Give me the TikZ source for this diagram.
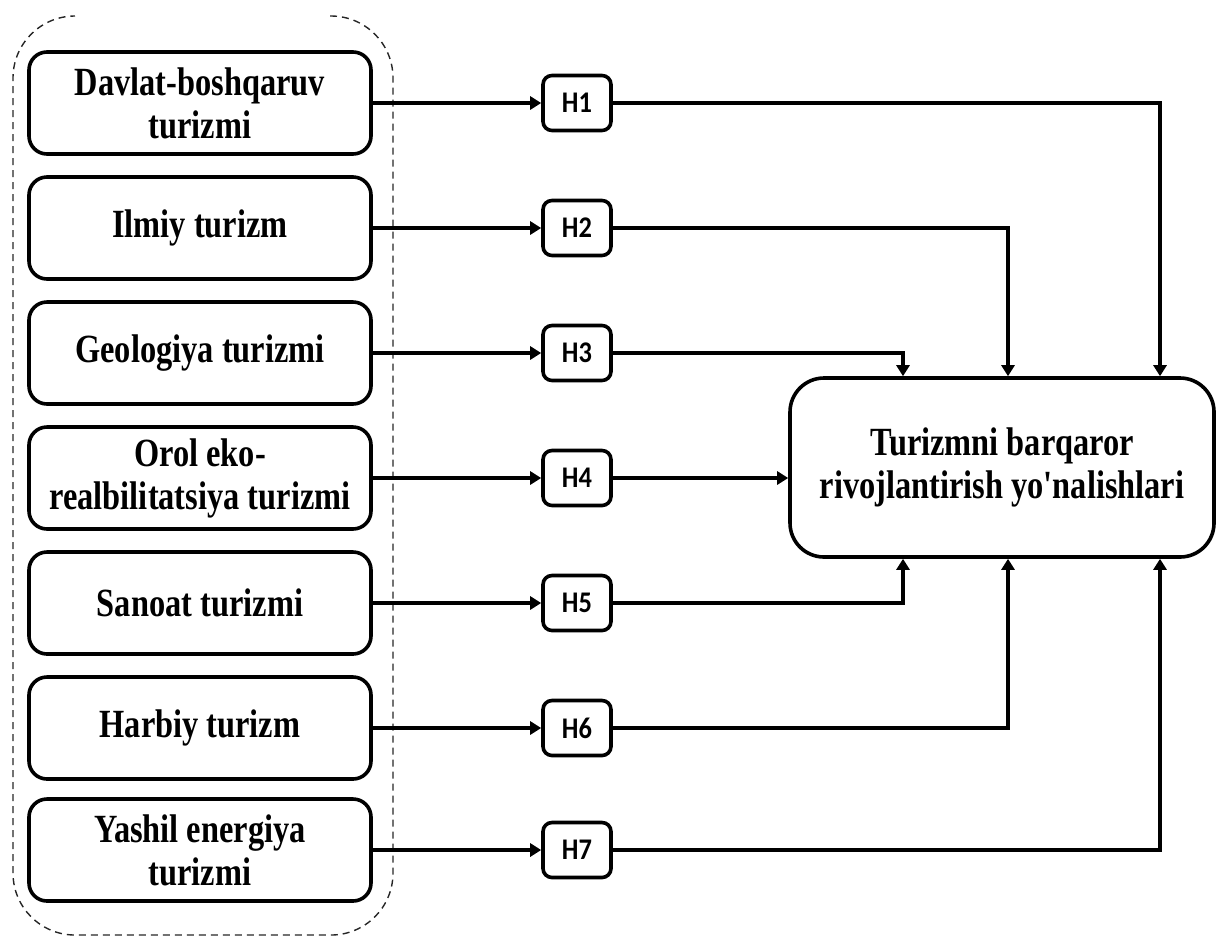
\documentclass[tikz,border=0pt]{standalone}
\usepackage{fontspec}
\newfontfamily\kindfont{Liberation Serif}[FakeStretch=0.81]
\newfontfamily\hypfont{Carlito}[FakeStretch=0.88]
\usetikzlibrary{arrows.meta}

\begin{document}
\begin{tikzpicture}[x=0.5pt,y=-0.5pt,
    kind/.style={draw,line width=1.8pt,rounded corners=9pt,minimum width=171pt,minimum height=51pt,
        inner sep=0pt,align=center,font=\kindfont\bfseries\fontsize{20}{21.5}\selectfont},
    hyp/.style={draw,line width=1.8pt,rounded corners=4.5pt,minimum width=34pt,minimum height=27.5pt,
        inner sep=0pt,font=\hypfont\bfseries\fontsize{15}{17}\selectfont},
    goalbox/.style={draw,line width=1.8pt,rounded corners=17pt,minimum width=212pt,minimum height=89.5pt,
        inner sep=0pt,align=center,font=\kindfont\bfseries\fontsize{20}{21.5}\selectfont},
    link/.style={-{Triangle[length=5.5pt,width=6.5pt]},line width=1.7pt}]
    \useasboundingbox (0,0) rectangle (1218,938);

    % dashed group round the kinds of tourism
    \draw [dashed,dash pattern=on 3.5pt off 2.5pt,line width=0.7pt,gray!30!black,rounded corners=31pt]
        (330,16)--(393,16)--(393,935)--(13,935)--(13,16)--(75,16);

    \node[kind] (k1) at (200,103) {Davlat-boshqaruv\\turizmi};
    \node[kind] (k2) at (200,228) {Ilmiy turizm};
    \node[kind] (k3) at (200,353) {Geologiya turizmi};
    \node[kind] (k4) at (200,478) {Orol eko-\\realbilitatsiya turizmi};
    \node[kind] (k5) at (200,603) {Sanoat turizmi};
    \node[kind] (k6) at (200,728) {Harbiy turizm};
    \node[kind] (k7) at (200,850) {Yashil energiya\\turizmi};

    \node[goalbox] (goal) at (1002,467.5) {Turizmni barqaror\\rivojlantirish yo'nalishlari};

    \foreach \i/\y in {1/103,2/228,3/353,4/478,5/603,6/728,7/850}{
        \node[hyp] (h\i) at (577,\y) {H\i};
        \draw [link] (k\i.east)--(h\i.west);
    }

    % hypotheses into the goal
    \draw [link] (h1.east) -| ([xshift=79pt]goal.north);
    \draw [link] (h2.east) -| ([xshift=3pt]goal.north);
    \draw [link] (h3.east) -| ([xshift=-49.5pt]goal.north);
    \draw [link] (h4.east)--(h4 -| goal.west);
    \draw [link] (h5.east) -| ([xshift=-49.5pt]goal.south);
    \draw [link] (h6.east) -| ([xshift=3pt]goal.south);
    \draw [link] (h7.east) -| ([xshift=79pt]goal.south);
\end{tikzpicture}
\end{document}
